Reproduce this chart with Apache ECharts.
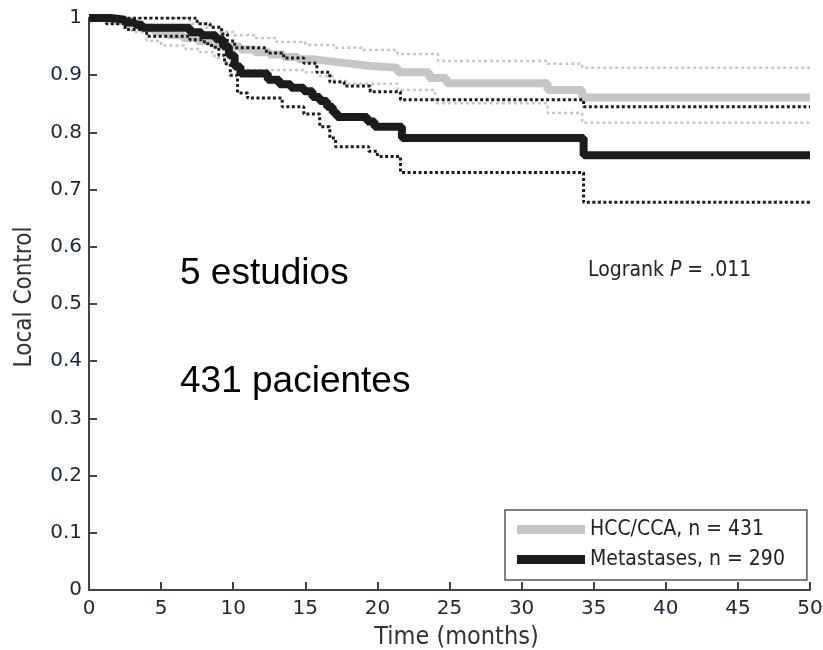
<!DOCTYPE html>
<html><head><meta charset="utf-8">
<script src="https://cdn.jsdelivr.net/npm/echarts@6/dist/echarts.min.js"></script>
<style>html,body{margin:0;padding:0;background:#fff}#c{width:823px;height:650px}</style>
</head><body><div id="c"></div>
<script>
const xTicks = [0,5,10,15,20,25,30,35,40,45,50];
const yTicks = [0,0.1,0.2,0.3,0.4,0.5,0.6,0.7,0.8,0.9,1];
const seriesNames = ['HCC/CCA, n = 431','Metastases, n = 290'];

const hccMain = [[0,1],[1.5,0.995],[2.5,0.99],[3.5,0.983],[4.5,0.976],[5.5,0.97],[6.5,0.965],[7.5,0.96],[8.5,0.955],[9.5,0.95],[10.5,0.945],[11.5,0.94],[12.5,0.936],[13.5,0.932],[14.5,0.928],[15.5,0.925],[16.5,0.922],[17.5,0.919],[18.5,0.916],[19.5,0.913],[21.4,0.905],[23.6,0.895],[24.8,0.886],[31.8,0.874],[34.2,0.861],[50,0.861]];
const hccUpper = [[0,1],[6,1],[7,0.99],[8,0.983],[9,0.976],[10,0.970],[11.5,0.965],[13,0.958],[15,0.953],[17,0.948],[19,0.944],[21.4,0.937],[24.2,0.925],[31.8,0.92],[34.2,0.913],[50,0.913]];
const hccLower = [[0,1],[1,0.995],[2,0.99],[3,0.975],[4,0.96],[5,0.952],[6.7,0.946],[7.7,0.94],[8.7,0.93],[9.5,0.92],[10.3,0.909],[15,0.905],[16,0.898],[17,0.89],[18,0.885],[21.4,0.874],[24,0.851],[31.8,0.834],[34.2,0.817],[50,0.817]];

const metMain = [[0,1],[1.5,0.997],[2.5,0.992],[3.2,0.988],[3.7,0.983],[7,0.975],[7.8,0.97],[8.8,0.963],[9.3,0.95],[9.7,0.935],[10.1,0.915],[10.5,0.903],[12.4,0.892],[13.2,0.884],[14,0.878],[14.9,0.872],[15.5,0.862],[16,0.855],[16.5,0.845],[16.9,0.835],[17.2,0.827],[19.3,0.819],[19.8,0.81],[21.7,0.79],[34.3,0.76],[50,0.76]];
const metUpper = [[0,1],[7,1],[7.5,0.99],[8.4,0.984],[9.2,0.972],[9.6,0.96],[10.1,0.948],[12.3,0.939],[13.5,0.93],[14.9,0.921],[15.8,0.905],[16.7,0.888],[17.7,0.881],[19.5,0.871],[21.6,0.857],[34.3,0.845],[50,0.845]];
const metLower = [[0,1],[1.2,0.99],[2.5,0.98],[4,0.968],[7,0.962],[8,0.955],[8.5,0.949],[9,0.935],[9.4,0.92],[9.8,0.9],[10.3,0.869],[11,0.86],[13.4,0.845],[14.9,0.832],[16,0.81],[16.7,0.79],[17.1,0.775],[19.4,0.767],[20,0.758],[21.6,0.730],[34.3,0.678],[50,0.678]];

const GRAY = '#c6c6c6', BLACK = '#1c1c1c';
const tickColor = '#1b2738';
const condensed = '"Liberation Sans Narrow","DejaVu Sans Condensed",sans-serif';

function line(name, data, color, width, type, z){
  return {name, type:'line', data, step:'end', symbol:'none', z, silent:true,
    lineStyle:{color, width, type}, itemStyle:{color}};
}

const chart = echarts.init(document.getElementById('c'));
chart.setOption({
  animation:false,
  grid:{left:89, top:18, right:13, bottom:60, containLabel:false, outerBoundsMode:'none'},
  xAxis:{type:'value', min:0, max:50, interval:5,
    axisLine:{lineStyle:{color:'#444', width:2}},
    axisTick:{inside:true, length:8, lineStyle:{color:'#444', width:2}},
    splitLine:{show:false},
    axisLabel:{color:tickColor, fontSize:20, fontFamily:'DejaVu Sans', margin:9},
    name:'Time (months)', nameLocation:'middle', nameGap:35,
    nameTextStyle:{color:'#333', fontSize:25, fontFamily:condensed, padding:[0,0,0,14]}},
  yAxis:{type:'value', min:0, max:1, interval:0.1,
    axisLine:{show:true, lineStyle:{color:'#444', width:2}},
    axisTick:{show:true, inside:true, length:8, lineStyle:{color:'#444', width:2}},
    splitLine:{show:false},
    axisLabel:{color:tickColor, fontSize:20, fontFamily:'DejaVu Sans', margin:7,
      formatter:v=> (v===0?'0':(Math.abs(v-1)<1e-9?'1':v.toFixed(1)))},
    name:'Local Control', nameLocation:'middle', nameGap:52,
    nameTextStyle:{color:'#333', fontSize:24, fontFamily:condensed, padding:[0,0,0,14]}},
  legend:{data:seriesNames, orient:'vertical', left:505, top:510,
    padding:[9,22,10,12], itemGap:9, itemWidth:68, itemHeight:9, icon:'rect',
    borderColor:'#555', borderWidth:1.5, backgroundColor:'#fff',
    textStyle:{color:'#222', fontSize:21, fontFamily:condensed}},
  series:[
    line('hccU', hccUpper, GRAY, 2.5, [3,3], 2),
    line('hccL', hccLower, GRAY, 2.5, [3,3], 2),
    line(seriesNames[0], hccMain, GRAY, 8, 'solid', 3),
    line('metU', metUpper, BLACK, 3, [3,2.5], 4),
    line('metL', metLower, BLACK, 3, [3,2.5], 4),
    line(seriesNames[1], metMain, BLACK, 8, 'solid', 5)
  ],
  graphic:[
    {type:'text', left:180, top:255, style:{text:'5 estudios', fill:'#000', font:'37px "Liberation Sans", Arial, sans-serif'}},
    {type:'text', left:180, top:363, style:{text:'431 pacientes', fill:'#000', font:'37px "Liberation Sans", Arial, sans-serif'}},
    {type:'text', left:588, top:260, style:{
      rich:{
        n:{fontSize:21, fontFamily:condensed, fill:'#222'},
        i:{fontSize:21, fontFamily:condensed, fill:'#222', fontStyle:'italic'}
      },
      text:'{n|Logrank }{i|P}{n| = .011}'}}
  ]
});
</script></body></html>
